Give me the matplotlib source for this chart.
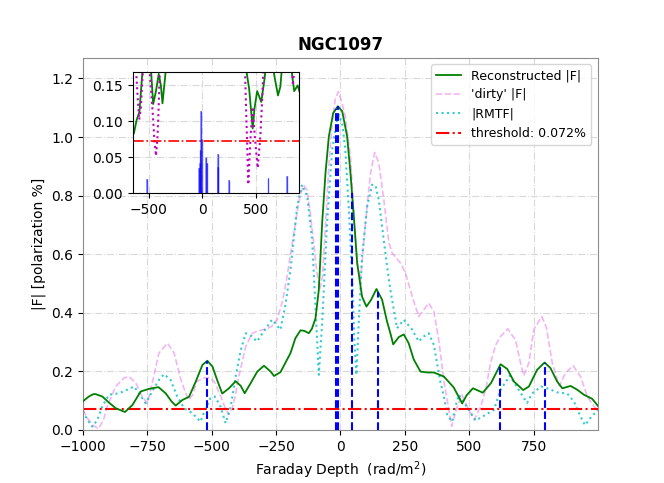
import numpy as np
import matplotlib
matplotlib.use("Agg")
import matplotlib.pyplot as plt

# Faraday depth samples (rad/m^2) and |F| in %
phi_clean = [-1000, -977, -960, -951, -925, -899, -873, -837, -808, -776, -744, -707, -679, -656,
             -640, -614, -588, -562, -536, -517, -497, -478, -459, -433, -407, -387, -372, -349,
             -323, -297, -271, -258, -233, -194, -175, -155, -140, -123, -111, -97, -84, -71,
             -58, -45, -28, -10, 7, 26, 39, 52, 65, 84, 101, 119, 140, 162, 181, 194, 205,
             227, 246, 265, 285, 311, 337, 363, 402, 440, 458, 473, 490, 515, 553, 585, 622,
             648, 674, 710, 732, 764, 793, 816, 842, 862, 894, 920, 946, 978, 1000]
f_clean = [0.098, 0.114, 0.122, 0.122, 0.114, 0.093, 0.074, 0.061, 0.085, 0.131, 0.140, 0.146, 0.125, 0.097,
           0.083, 0.102, 0.113, 0.165, 0.222, 0.236, 0.216, 0.168, 0.124, 0.142, 0.166, 0.150, 0.125, 0.159,
           0.199, 0.219, 0.199, 0.184, 0.197, 0.262, 0.313, 0.340, 0.338, 0.330, 0.345, 0.380, 0.478, 0.706,
           0.877, 1.002, 1.082, 1.105, 1.088, 1.002, 0.877, 0.729, 0.570, 0.455, 0.421, 0.444, 0.481, 0.444, 0.370, 0.330, 0.292,
           0.317, 0.326, 0.296, 0.240, 0.199, 0.196, 0.196, 0.182, 0.145, 0.115, 0.090, 0.118, 0.142, 0.127, 0.160, 0.224,
           0.208, 0.165, 0.136, 0.148, 0.205, 0.230, 0.211, 0.165, 0.142, 0.150, 0.137, 0.120, 0.106, 0.082]

phi_dirty = [-1000, -983, -960, -940, -920, -906, -873, -841, -821, -795, -770, -750, -731, -705,
             -672, -646, -621, -605, -590, -575, -558, -530, -510, -490, -465, -448, -433, -420,
             -410, -394, -368, -342, -320, -303, -285, -265, -246, -225, -207, -181, -158, -143,
             -130, -117, -104, -92, -80, -70, -58, -45, -32, -20, -8, 5, 19, 39, 54, 65, 78,
             97, 117, 133, 149, 168, 188, 201, 233, 253, 279, 304, 324, 343, 363, 382, 402,
             415, 432, 452, 472, 495, 520, 545, 565, 583, 603, 622, 650, 680, 700, 712, 732,
             751, 782, 800, 823, 850, 874, 904, 933, 959, 985, 1000]
f_dirty = [0.068, 0.040, 0.015, 0.004, 0.035, 0.080, 0.148, 0.177, 0.182, 0.160, 0.114, 0.091, 0.160, 0.262,
           0.296, 0.262, 0.175, 0.135, 0.102, 0.118, 0.165, 0.178, 0.178, 0.165, 0.115, 0.075, 0.052, 0.075,
           0.110, 0.185, 0.285, 0.330, 0.338, 0.342, 0.345, 0.355, 0.376, 0.440, 0.524, 0.672, 0.797, 0.835,
           0.820, 0.740, 0.640, 0.540, 0.480, 0.520, 0.700, 0.900, 1.050, 1.130, 1.155, 1.120, 1.070, 0.934, 0.706, 0.570, 0.512,
           0.706, 0.877, 0.947, 0.911, 0.790, 0.640, 0.604, 0.570, 0.535, 0.455, 0.387, 0.410, 0.433, 0.404, 0.307, 0.165,
           0.100, 0.012, 0.075, 0.120, 0.075, 0.035, 0.080, 0.140, 0.228, 0.290, 0.319, 0.345, 0.307, 0.228, 0.185, 0.228,
           0.342, 0.387, 0.350, 0.228, 0.150, 0.194, 0.219, 0.182, 0.114, 0.080, 0.068]

phi_rmtf = [-1000, -983, -964, -944, -925, -899, -860, -828, -802, -782, -757, -731, -705, -685,
            -660, -634, -607, -575, -544, -525, -505, -488, -466, -446, -426, -407, -387, -368,
            -345, -324, -298, -266, -250, -233, -213, -194, -168, -149, -129, -110, -97, -84,
            -71, -52, -32, -13, -5, 8, 19, 32, 45, 54, 62, 71, 84, 104, 123, 136, 149, 168,
            181, 194, 220, 246, 279, 304, 324, 343, 363, 389, 402, 415, 434, 447, 460, 475,
            499, 525, 557, 596, 622, 658, 690, 725, 745, 780, 810, 842, 881, 907, 933, 950,
            975, 1000]
f_rmtf = [0.063, 0.034, 0.011, 0.034, 0.080, 0.120, 0.125, 0.137, 0.148, 0.125, 0.091, 0.131, 0.171, 0.190,
          0.171, 0.114, 0.074, 0.057, 0.028, 0.070, 0.108, 0.114, 0.080, 0.023, 0.080, 0.182, 0.273, 0.330,
          0.320, 0.302, 0.336, 0.376, 0.360, 0.342, 0.430, 0.547, 0.763, 0.837, 0.797, 0.649, 0.421, 0.188,
          0.365, 0.706, 0.957, 1.060, 1.075, 1.040, 0.957, 0.763, 0.535, 0.307, 0.188, 0.365, 0.592, 0.763, 0.837, 0.835, 0.786, 0.650,
          0.560, 0.478, 0.347, 0.376, 0.342, 0.302, 0.319, 0.330, 0.290, 0.160, 0.114, 0.050, 0.028, 0.080, 0.120, 0.100,
          0.068, 0.032, 0.048, 0.068, 0.137, 0.185, 0.140, 0.092, 0.125, 0.148, 0.140, 0.128, 0.124, 0.097, 0.045, 0.016,
          0.045, 0.068]

# clean components (inset) and the marked component positions (main plot)
comp_phi = [-518, -32, -24, -16, -10, -6, 38, 44, 146, 150, 252, 620, 795]
comp_amp = [0.020, 0.035, 0.042, 0.060, 0.114, 0.075, 0.050, 0.042, 0.055, 0.036, 0.018, 0.021, 0.024]
mark_phi = [-518, -18, -10, 45, 146, 619, 794]

threshold = 0.072

fig = plt.figure(figsize=(6.64, 4.83), dpi=100)
ax = fig.add_subplot(111)

ax.plot(phi_clean, f_clean, color="green", lw=1.3, label="Reconstructed |F|", zorder=4)
ax.plot(phi_dirty, f_dirty, color="violet", ls="--", lw=1.2, alpha=0.6, label="'dirty' |F|")
ax.plot(phi_rmtf, f_rmtf, color="c", ls=":", lw=1.5, alpha=0.8, label="|RMTF|")
ax.axhline(threshold, color="r", ls="-.", lw=1.5, label="threshold: 0.072%")

# dashed markers up to the reconstructed curve
mark_h = np.interp(mark_phi, phi_clean, f_clean)
ax.vlines(mark_phi, 0, mark_h, colors="blue", linestyles="--", lw=1.5, zorder=5)

ax.set_xlim(-1000, 999)
ax.set_ylim(0, 1.27)
ax.set_title("NGC1097", fontweight="bold")
ax.set_xlabel("Faraday Depth  (rad/m$^2$)")
ax.set_ylabel("|F| [polarization %]")
ax.grid(True, ls="-.", color="#d8d8d8", lw=0.8)
for s in ax.spines.values():
    s.set_color("0.55")
ax.legend(loc="upper right", fontsize=9)

# inset
ins = fig.add_axes([0.2, 0.6, 0.25, 0.25])
ins.plot(phi_clean, f_clean, color="green", lw=1.3)
ins.plot(phi_dirty, f_dirty, color="m", ls=":", lw=1.5)
ins.axhline(threshold, color="r", ls="-.", lw=1.2)
ins.bar(comp_phi, comp_amp, width=14, color="blue", alpha=0.35)
ins.vlines(comp_phi, 0, comp_amp, colors="blue", lw=1, alpha=0.6)
ins.set_xlim(-650, 905)
ins.set_ylim(0, 0.168)
ins.set_xticks([-500, 0, 500])
ins.set_yticks([0.0, 0.05, 0.10, 0.15])
ins.yaxis.set_major_formatter(matplotlib.ticker.FormatStrFormatter("%.2f"))
ins.grid(True, ls="-.", color="#d8d8d8", lw=0.8)

fig.savefig("out.png", dpi=100)
